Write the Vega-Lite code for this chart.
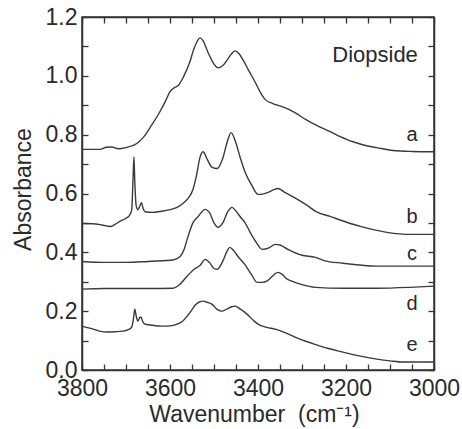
{
  "$schema": "https://vega.github.io/schema/vega-lite/v6.json",
  "width": 352,
  "height": 353,
  "autosize": "none",
  "padding": {"left": 82, "top": 17, "right": 28, "bottom": 59},
  "background": "white",
  "config": {
    "view": {"stroke": "#333", "strokeWidth": 1.5},
    "font": "Liberation Sans",
    "axis": {"grid": false, "domainColor": "#333", "domainWidth": 1.5, "tickColor": "#333", "tickWidth": 1.3, "labelFont": "Liberation Sans", "titleFont": "Liberation Sans", "labelColor": "#2a2a2a", "titleColor": "#2a2a2a", "titleFontWeight": "normal"}
  },
  "datasets": {
    "spectra": [
      {"s":"a","wn":3800,"A":0.75},{"s":"a","wn":3775,"A":0.75},{"s":"a","wn":3759,"A":0.75},{"s":"a","wn":3745,"A":0.757},{"s":"a","wn":3732,"A":0.758},{"s":"a","wn":3718,"A":0.752},{"s":"a","wn":3700,"A":0.756},{"s":"a","wn":3691,"A":0.76},{"s":"a","wn":3680,"A":0.766},{"s":"a","wn":3670,"A":0.777},{"s":"a","wn":3661,"A":0.79},{"s":"a","wn":3645,"A":0.825},{"s":"a","wn":3623,"A":0.878},{"s":"a","wn":3610,"A":0.915},{"s":"a","wn":3600,"A":0.946},{"s":"a","wn":3590,"A":0.96},{"s":"a","wn":3582,"A":0.966},{"s":"a","wn":3570,"A":0.995},{"s":"a","wn":3555,"A":1.047},{"s":"a","wn":3545,"A":1.095},{"s":"a","wn":3539,"A":1.115},{"s":"a","wn":3532,"A":1.129},{"s":"a","wn":3525,"A":1.12},{"s":"a","wn":3514,"A":1.081},{"s":"a","wn":3500,"A":1.04},{"s":"a","wn":3491,"A":1.027},{"s":"a","wn":3480,"A":1.035},{"s":"a","wn":3470,"A":1.054},{"s":"a","wn":3460,"A":1.075},{"s":"a","wn":3452,"A":1.085},{"s":"a","wn":3443,"A":1.075},{"s":"a","wn":3434,"A":1.054},{"s":"a","wn":3420,"A":1.015},{"s":"a","wn":3407,"A":0.98},{"s":"a","wn":3395,"A":0.945},{"s":"a","wn":3384,"A":0.92},{"s":"a","wn":3365,"A":0.905},{"s":"a","wn":3345,"A":0.895},{"s":"a","wn":3316,"A":0.875},{"s":"a","wn":3290,"A":0.85},{"s":"a","wn":3270,"A":0.834},{"s":"a","wn":3236,"A":0.81},{"s":"a","wn":3200,"A":0.785},{"s":"a","wn":3184,"A":0.776},{"s":"a","wn":3160,"A":0.765},{"s":"a","wn":3130,"A":0.756},{"s":"a","wn":3093,"A":0.746},{"s":"a","wn":3050,"A":0.743},{"s":"a","wn":3000,"A":0.742},
      {"s":"b","wn":3800,"A":0.498},{"s":"b","wn":3775,"A":0.497},{"s":"b","wn":3755,"A":0.493},{"s":"b","wn":3736,"A":0.488},{"s":"b","wn":3725,"A":0.495},{"s":"b","wn":3714,"A":0.505},{"s":"b","wn":3700,"A":0.516},{"s":"b","wn":3692,"A":0.526},{"s":"b","wn":3687,"A":0.545},{"s":"b","wn":3684,"A":0.65},{"s":"b","wn":3682,"A":0.725},{"s":"b","wn":3680,"A":0.64},{"s":"b","wn":3677,"A":0.56},{"s":"b","wn":3673,"A":0.545},{"s":"b","wn":3668,"A":0.56},{"s":"b","wn":3665,"A":0.569},{"s":"b","wn":3661,"A":0.548},{"s":"b","wn":3657,"A":0.538},{"s":"b","wn":3640,"A":0.536},{"s":"b","wn":3623,"A":0.539},{"s":"b","wn":3600,"A":0.545},{"s":"b","wn":3584,"A":0.553},{"s":"b","wn":3570,"A":0.567},{"s":"b","wn":3561,"A":0.58},{"s":"b","wn":3548,"A":0.613},{"s":"b","wn":3540,"A":0.66},{"s":"b","wn":3532,"A":0.722},{"s":"b","wn":3525,"A":0.742},{"s":"b","wn":3515,"A":0.715},{"s":"b","wn":3505,"A":0.69},{"s":"b","wn":3493,"A":0.685},{"s":"b","wn":3480,"A":0.72},{"s":"b","wn":3470,"A":0.775},{"s":"b","wn":3461,"A":0.807},{"s":"b","wn":3452,"A":0.78},{"s":"b","wn":3440,"A":0.72},{"s":"b","wn":3430,"A":0.675},{"s":"b","wn":3415,"A":0.63},{"s":"b","wn":3400,"A":0.597},{"s":"b","wn":3390,"A":0.598},{"s":"b","wn":3380,"A":0.602},{"s":"b","wn":3365,"A":0.612},{"s":"b","wn":3355,"A":0.617},{"s":"b","wn":3340,"A":0.605},{"s":"b","wn":3316,"A":0.585},{"s":"b","wn":3282,"A":0.553},{"s":"b","wn":3270,"A":0.54},{"s":"b","wn":3236,"A":0.522},{"s":"b","wn":3200,"A":0.503},{"s":"b","wn":3168,"A":0.488},{"s":"b","wn":3107,"A":0.468},{"s":"b","wn":3055,"A":0.461},{"s":"b","wn":3000,"A":0.461},
      {"s":"c","wn":3800,"A":0.369},{"s":"c","wn":3750,"A":0.366},{"s":"c","wn":3700,"A":0.366},{"s":"c","wn":3650,"A":0.369},{"s":"c","wn":3610,"A":0.372},{"s":"c","wn":3593,"A":0.374},{"s":"c","wn":3577,"A":0.386},{"s":"c","wn":3568,"A":0.41},{"s":"c","wn":3561,"A":0.444},{"s":"c","wn":3548,"A":0.5},{"s":"c","wn":3536,"A":0.522},{"s":"c","wn":3520,"A":0.546},{"s":"c","wn":3510,"A":0.535},{"s":"c","wn":3500,"A":0.5},{"s":"c","wn":3491,"A":0.485},{"s":"c","wn":3480,"A":0.5},{"s":"c","wn":3468,"A":0.54},{"s":"c","wn":3459,"A":0.553},{"s":"c","wn":3450,"A":0.54},{"s":"c","wn":3440,"A":0.52},{"s":"c","wn":3430,"A":0.502},{"s":"c","wn":3415,"A":0.46},{"s":"c","wn":3400,"A":0.425},{"s":"c","wn":3391,"A":0.41},{"s":"c","wn":3375,"A":0.415},{"s":"c","wn":3361,"A":0.427},{"s":"c","wn":3350,"A":0.425},{"s":"c","wn":3332,"A":0.41},{"s":"c","wn":3300,"A":0.39},{"s":"c","wn":3270,"A":0.383},{"s":"c","wn":3250,"A":0.372},{"s":"c","wn":3207,"A":0.363},{"s":"c","wn":3170,"A":0.357},{"s":"c","wn":3130,"A":0.353},{"s":"c","wn":3055,"A":0.353},{"s":"c","wn":3000,"A":0.353},
      {"s":"d","wn":3800,"A":0.275},{"s":"d","wn":3750,"A":0.277},{"s":"d","wn":3700,"A":0.277},{"s":"d","wn":3650,"A":0.277},{"s":"d","wn":3593,"A":0.278},{"s":"d","wn":3577,"A":0.292},{"s":"d","wn":3561,"A":0.319},{"s":"d","wn":3543,"A":0.345},{"s":"d","wn":3532,"A":0.355},{"s":"d","wn":3520,"A":0.376},{"s":"d","wn":3510,"A":0.365},{"s":"d","wn":3500,"A":0.345},{"s":"d","wn":3493,"A":0.342},{"s":"d","wn":3480,"A":0.37},{"s":"d","wn":3470,"A":0.405},{"s":"d","wn":3464,"A":0.417},{"s":"d","wn":3455,"A":0.405},{"s":"d","wn":3445,"A":0.385},{"s":"d","wn":3430,"A":0.359},{"s":"d","wn":3415,"A":0.325},{"s":"d","wn":3402,"A":0.298},{"s":"d","wn":3390,"A":0.298},{"s":"d","wn":3380,"A":0.302},{"s":"d","wn":3368,"A":0.318},{"s":"d","wn":3355,"A":0.332},{"s":"d","wn":3345,"A":0.325},{"s":"d","wn":3335,"A":0.31},{"s":"d","wn":3323,"A":0.302},{"s":"d","wn":3300,"A":0.29},{"s":"d","wn":3270,"A":0.281},{"s":"d","wn":3207,"A":0.278},{"s":"d","wn":3130,"A":0.278},{"s":"d","wn":3055,"A":0.281},{"s":"d","wn":3000,"A":0.285},
      {"s":"e","wn":3800,"A":0.149},{"s":"e","wn":3775,"A":0.139},{"s":"e","wn":3760,"A":0.132},{"s":"e","wn":3743,"A":0.129},{"s":"e","wn":3725,"A":0.13},{"s":"e","wn":3707,"A":0.132},{"s":"e","wn":3695,"A":0.137},{"s":"e","wn":3687,"A":0.146},{"s":"e","wn":3683,"A":0.175},{"s":"e","wn":3680,"A":0.207},{"s":"e","wn":3677,"A":0.185},{"s":"e","wn":3673,"A":0.166},{"s":"e","wn":3669,"A":0.178},{"s":"e","wn":3666,"A":0.18},{"s":"e","wn":3662,"A":0.165},{"s":"e","wn":3657,"A":0.156},{"s":"e","wn":3645,"A":0.153},{"s":"e","wn":3616,"A":0.149},{"s":"e","wn":3600,"A":0.15},{"s":"e","wn":3584,"A":0.156},{"s":"e","wn":3572,"A":0.165},{"s":"e","wn":3561,"A":0.183},{"s":"e","wn":3550,"A":0.205},{"s":"e","wn":3543,"A":0.22},{"s":"e","wn":3532,"A":0.232},{"s":"e","wn":3525,"A":0.234},{"s":"e","wn":3515,"A":0.23},{"s":"e","wn":3505,"A":0.224},{"s":"e","wn":3492,"A":0.205},{"s":"e","wn":3482,"A":0.2},{"s":"e","wn":3470,"A":0.208},{"s":"e","wn":3460,"A":0.215},{"s":"e","wn":3452,"A":0.217},{"s":"e","wn":3440,"A":0.207},{"s":"e","wn":3425,"A":0.19},{"s":"e","wn":3410,"A":0.168},{"s":"e","wn":3400,"A":0.156},{"s":"e","wn":3380,"A":0.145},{"s":"e","wn":3361,"A":0.139},{"s":"e","wn":3340,"A":0.128},{"s":"e","wn":3316,"A":0.112},{"s":"e","wn":3290,"A":0.097},{"s":"e","wn":3270,"A":0.087},{"s":"e","wn":3240,"A":0.073},{"s":"e","wn":3207,"A":0.061},{"s":"e","wn":3170,"A":0.048},{"s":"e","wn":3130,"A":0.037},{"s":"e","wn":3100,"A":0.031},{"s":"e","wn":3070,"A":0.027},{"s":"e","wn":3000,"A":0.027}
    ],
    "labels": [
      {"s":"a","wn":3050,"A":0.80},
      {"s":"b","wn":3050,"A":0.52},
      {"s":"c","wn":3050,"A":0.393},
      {"s":"d","wn":3050,"A":0.224},
      {"s":"e","wn":3050,"A":0.085}
    ],
    "title": [{"t":"Diopside","wn":3134,"A":1.07}]
  },
  "resolve": {"axis": {"x": "independent", "y": "independent"}},
  "layer": [
    {
      "data": {"name": "spectra"},
      "mark": {"type": "line", "interpolate": "monotone", "color": "#3a3a3a", "strokeWidth": 1.4},
      "encoding": {
        "x": {"field": "wn", "type": "quantitative",
              "scale": {"domain": [3000, 3800], "reverse": true, "nice": false, "zero": false},
              "axis": {"orient": "bottom", "values": [3000,3050,3100,3150,3200,3250,3300,3350,3400,3450,3500,3550,3600,3650,3700,3750,3800],
                       "labelExpr": "datum.value % 200 == 0 ? format(datum.value, 'd') : ''",
                       "tickSize": -6, "labelPadding": 13, "labelFontSize": 23, "labelFlush": false, "labelOverlap": false,
                       "title": "Wavenumber\u00a0\u00a0(cm⁻¹)", "titleFontSize": 23, "titleBaseline": "alphabetic", "titleX": 172, "titleY": 51, "titleAlign": "center"}},
        "y": {"field": "A", "type": "quantitative",
              "scale": {"domain": [0, 1.2], "nice": false},
              "axis": {"orient": "left", "values": [0,0.1,0.2,0.3,0.4,0.5,0.6,0.7,0.8,0.9,1.0,1.1,1.2],
                       "labelExpr": "round(datum.value*10) % 2 == 0 ? format(datum.value, '.1f') : ''",
                       "tickSize": -6, "labelPadding": 11, "labelFontSize": 23, "labelFlush": false, "labelOverlap": false,
                       "title": "Absorbance", "titleFontSize": 23, "titleBaseline": "alphabetic", "titleAngle": -90, "titleX": -52, "titleY": 172, "titleAlign": "center"}},
        "detail": {"field": "s"}
      }
    },
    {
      "data": {"name": "labels"},
      "mark": {"type": "text", "fontSize": 20, "color": "#2a2a2a", "align": "center", "baseline": "middle"},
      "encoding": {
        "x": {"field": "wn", "type": "quantitative",
              "axis": {"orient": "top", "values": [3000,3050,3100,3150,3200,3250,3300,3350,3400,3450,3500,3550,3600,3650,3700,3750,3800], "labels": false, "tickSize": -6, "title": null}},
        "y": {"field": "A", "type": "quantitative",
              "axis": {"orient": "right", "values": [0,0.1,0.2,0.3,0.4,0.5,0.6,0.7,0.8,0.9,1.0,1.1,1.2], "labels": false, "tickSize": -6, "title": null}},
        "text": {"field": "s"}
      }
    },
    {
      "data": {"name": "title"},
      "mark": {"type": "text", "fontSize": 22, "color": "#2a2a2a", "align": "center", "baseline": "middle"},
      "encoding": {
        "x": {"field": "wn", "type": "quantitative", "axis": null},
        "y": {"field": "A", "type": "quantitative", "axis": null},
        "text": {"field": "t"}
      }
    }
  ]
}
